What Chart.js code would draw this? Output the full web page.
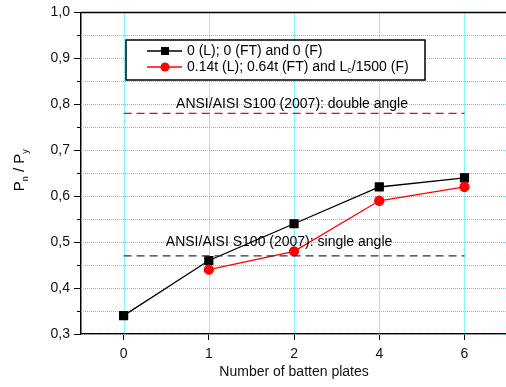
<!DOCTYPE html>
<html>
<head>
<meta charset="utf-8">
<script src="https://cdn.jsdelivr.net/npm/chart.js@4/dist/chart.umd.min.js"></script>
<style>
  html, body { margin: 0; padding: 0; background: #fff; overflow: hidden; }
  #wrap { width: 506px; height: 387px; overflow: hidden; }
</style>
</head>
<body>
<div id="wrap"><canvas id="chart" width="514" height="387"></canvas></div>
<script>
// chart data
const plates = ['0', '1', '2', '4', '6'];
const noImperfection = [0.34, 0.46, 0.54, 0.62, 0.64];
const withImperfection = [null, 0.44, 0.48, 0.59, 0.62];
const doubleAngle = [0.78, 0.78, 0.78, 0.78, 0.78];
const singleAngle = [0.47, 0.47, 0.47, 0.47, 0.47];

const FONT = "Arial, 'Liberation Sans', sans-serif";
const gridCyan = '#22e6f4';

// draws text made of pieces, some of them subscripts
function richText(ctx, parts, x, y, align, size = 14){
    let total = 0;
    parts.forEach(p => {
        ctx.font = (p.sub ? 9 : size) + 'px ' + FONT;
        p.w = ctx.measureText(p.t).width;
        total += p.w;
    });
    let cx = align === 'center' ? x - total / 2 : x;
    parts.forEach(p => {
        ctx.font = (p.sub ? 9 : size) + 'px ' + FONT;
        ctx.fillText(p.t, cx, y + (p.sub ? 4 : 0));
        cx += p.w;
    });
}

// dotted cyan grid, under the data
const dottedGrid = {
    id: 'dottedGrid',
    beforeDatasetsDraw(chart){
        const ctx = chart.ctx;
        const area = chart.chartArea;
        const xs = chart.scales.x;
        const ys = chart.scales.y;
        ctx.save();
        ctx.strokeStyle = gridCyan;
        ctx.lineWidth = 1;
        ctx.setLineDash([1, 1]);
        ys.ticks.forEach(t => {
            const py = Math.round(ys.getPixelForValue(t.value)) + 0.5;
            ctx.beginPath();
            ctx.moveTo(area.left, py);
            ctx.lineTo(area.right, py);
            ctx.stroke();
        });
        xs.ticks.forEach((t, i) => {
            const px = Math.round(xs.getPixelForValue(i)) + 0.5;
            ctx.beginPath();
            ctx.moveTo(px, area.top);
            ctx.lineTo(px, area.bottom);
            ctx.stroke();
        });
        ctx.restore();
    }
};

const extras = {
    id: 'extras',
    afterDraw(chart){
        const ctx = chart.ctx;
        const area = chart.chartArea;
        const xs = chart.scales.x;
        const ys = chart.scales.y;
        ctx.save();

        // frame on top and right
        ctx.strokeStyle = '#000';
        ctx.lineWidth = 1.5;
        ctx.beginPath();
        ctx.moveTo(area.left, area.top);
        ctx.lineTo(area.right, area.top);
        ctx.lineTo(area.right, area.bottom);
        ctx.stroke();

        // minor ticks on y
        ctx.lineWidth = 1;
        ys.ticks.forEach(t => {
            if(Math.round(t.value * 100) % 10 !== 0){
                const py = Math.round(ys.getPixelForValue(t.value)) + 0.5;
                ctx.beginPath();
                ctx.moveTo(area.left - 4, py);
                ctx.lineTo(area.left, py);
                ctx.stroke();
            }
        });

        // reference line labels
        ctx.fillStyle = '#000';
        ctx.textBaseline = 'alphabetic';
        richText(ctx, [{t: 'ANSI/AISI S100 (2007): double angle'}],
            xs.getPixelForValue(2) - 2, ys.getPixelForValue(doubleAngle[0]) - 5, 'center');
        richText(ctx, [{t: 'ANSI/AISI S100 (2007): single angle'}],
            xs.getPixelForValue(2) - 15, ys.getPixelForValue(singleAngle[0]) - 10, 'center');

        // y axis title, rotated with subscripts
        ctx.save();
        ctx.translate(24, (area.top + area.bottom) / 2 - 3);
        ctx.rotate(-Math.PI / 2);
        richText(ctx, [{t: 'P'}, {t: 'n', sub: true}, {t: ' / P'}, {t: 'y', sub: true}], 0, 0, 'center', 15);
        ctx.restore();

        // legend box
        const bx = 126, by = 40, bw = 299, bh = 40;
        ctx.fillStyle = '#fff';
        ctx.fillRect(bx, by, bw, bh);
        ctx.strokeStyle = '#000';
        ctx.lineWidth = 1.5;
        ctx.strokeRect(bx, by, bw, bh);

        const rows = [
            {y: 51, color: '#000', style: 'rect', parts: [{t: '0 (L); 0 (FT) and 0 (F)'}]},
            {y: 67, color: '#ff0000', style: 'circle', parts: [{t: '0.14t (L); 0.64t (FT) and L'}, {t: 'c', sub: true}, {t: '/1500 (F)'}]}
        ];
        rows.forEach(r => {
            ctx.strokeStyle = r.color;
            ctx.fillStyle = r.color;
            ctx.lineWidth = 1.3;
            ctx.beginPath();
            ctx.moveTo(147, r.y);
            ctx.lineTo(182, r.y);
            ctx.stroke();
            if(r.style === 'rect'){
                ctx.fillRect(161, r.y - 4, 8, 8);
            }
            else{
                ctx.beginPath();
                ctx.arc(165, r.y, 4.5, 0, Math.PI * 2);
                ctx.fill();
            }
            ctx.fillStyle = '#000';
            ctx.textBaseline = 'middle';
            richText(ctx, r.parts, 187, r.y, 'left');
        });

        ctx.restore();
    }
};

new Chart(document.querySelector('#chart'), {
    type: 'line',
    data: {
        labels: plates,
        datasets: [
            {
                label: 'double angle',
                data: doubleAngle,
                borderColor: '#ff0000',
                borderWidth: 1.2,
                borderDash: [8, 5],
                pointRadius: 0
            },
            {
                label: 'single angle',
                data: singleAngle,
                borderColor: '#333',
                borderWidth: 1.2,
                borderDash: [8, 5],
                pointRadius: 0
            },
            {
                label: '0.14t (L); 0.64t (FT) and Lc/1500 (F)',
                data: withImperfection,
                borderColor: '#ff0000',
                backgroundColor: '#ff0000',
                borderWidth: 1.3,
                pointStyle: 'circle',
                pointRadius: 4.5,
                tension: 0
            },
            {
                label: '0 (L); 0 (FT) and 0 (F)',
                data: noImperfection,
                borderColor: '#000',
                backgroundColor: '#000',
                borderWidth: 1.3,
                pointStyle: 'rect',
                pointRadius: 5.6,
                tension: 0
            }
        ]
    },
    options: {
        responsive: false,
        animation: false,
        events: [],
        layout: {
            padding: {top: 12, right: 2, bottom: 0, left: 0}
        },
        plugins: {
            legend: {display: false},
            tooltip: {enabled: false}
        },
        scales: {
            x: {
                offset: true,
                grid: {
                    drawOnChartArea: false,
                    tickColor: '#000',
                    tickLength: 6,
                    tickWidth: 1
                },
                border: {color: '#000', width: 1.5},
                ticks: {
                    color: '#111',
                    padding: 6,
                    font: {family: FONT, size: 14}
                },
                title: {
                    display: true,
                    text: 'Number of batten plates',
                    color: '#111',
                    font: {family: FONT, size: 14},
                    padding: {top: 0, bottom: 6}
                },
                afterFit(scale){
                    scale.height = 53;
                }
            },
            y: {
                min: 0.3,
                max: 1.0,
                grid: {
                    drawOnChartArea: false,
                    tickLength: 7,
                    tickWidth: 1,
                    tickColor: ctx => (Math.round(ctx.tick.value * 100) % 10 === 0 ? '#000' : 'rgba(0,0,0,0)')
                },
                border: {color: '#000', width: 1.5},
                ticks: {
                    stepSize: 0.05,
                    color: '#111',
                    padding: 4,
                    font: {family: FONT, size: 14},
                    callback: function(value){
                        if(Math.round(value * 100) % 10 !== 0){
                            return '';
                        }
                        return value.toFixed(1).replace('.', ',');
                    }
                },
                afterFit(scale){
                    scale.width = 81;
                }
            }
        }
    },
    plugins: [dottedGrid, extras]
});
</script>
</body>
</html>
